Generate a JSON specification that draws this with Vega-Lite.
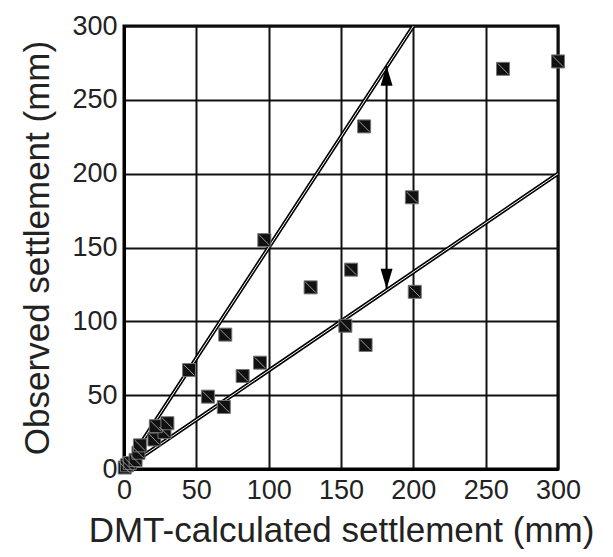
{
  "$schema": "https://vega.github.io/schema/vega-lite/v6.json",
  "width": 434,
  "height": 443,
  "autosize": {"type": "none"},
  "padding": {"left": 124, "top": 26, "right": 55, "bottom": 88},
  "background": "white",
  "config": {
    "font": "Liberation Sans",
    "view": {"stroke": "black", "strokeWidth": 3},
    "axis": {
      "labelFont": "Liberation Sans",
      "titleFont": "Liberation Sans",
      "labelFontSize": 27,
      "titleFontSize": 35,
      "titleFontWeight": "normal",
      "labelColor": "#222",
      "titleColor": "#222",
      "domainColor": "black",
      "domainWidth": 3,
      "gridColor": "#111",
      "gridWidth": 2,
      "gridOpacity": 1,
      "ticks": false,
      "labelFlush": false,
      "labelOverlap": false,
      "titleLimit": 1000,
      "labelLimit": 1000
    }
  },
  "datasets": {
    "points": [
      {"x": 0.5, "y": 1}, {"x": 2, "y": 2.5}, {"x": 4, "y": 4}, {"x": 8, "y": 6},
      {"x": 10, "y": 11}, {"x": 11, "y": 16}, {"x": 21, "y": 20}, {"x": 28, "y": 25},
      {"x": 22, "y": 29}, {"x": 30, "y": 31}, {"x": 45, "y": 67}, {"x": 58, "y": 49},
      {"x": 69, "y": 42}, {"x": 70, "y": 91}, {"x": 82, "y": 63}, {"x": 94, "y": 72},
      {"x": 97, "y": 155}, {"x": 129, "y": 123}, {"x": 153, "y": 97}, {"x": 157, "y": 135},
      {"x": 166, "y": 232}, {"x": 167, "y": 84}, {"x": 199, "y": 184}, {"x": 201, "y": 120},
      {"x": 262, "y": 271}, {"x": 300, "y": 276}
    ],
    "lines": [
      {"line": "upper", "x": 0, "y": 0}, {"line": "upper", "x": 200, "y": 300},
      {"line": "lower", "x": 0, "y": 0}, {"line": "lower", "x": 300, "y": 200}
    ],
    "arrow": [{"x": 181.5, "y": 122, "y2": 273}],
    "heads": [
      {"x": 181.5, "y": 273, "dir": "up"},
      {"x": 181.5, "y": 122, "dir": "down"}
    ]
  },
  "encoding": {
    "x": {
      "field": "x", "type": "quantitative",
      "scale": {"domain": [0, 300], "nice": false, "zero": true},
      "axis": {"values": [0, 50, 100, 150, 200, 250, 300], "title": "DMT-calculated settlement (mm)", "labelPadding": 8, "titlePadding": 10, "grid": true}
    },
    "y": {
      "field": "y", "type": "quantitative",
      "scale": {"domain": [0, 300], "nice": false, "zero": true},
      "axis": {"values": [0, 50, 100, 150, 200, 250, 300], "title": "Observed settlement (mm)", "labelPadding": 7, "titlePadding": 16, "grid": true}
    }
  },
  "layer": [
    {
      "data": {"name": "lines"},
      "mark": {"type": "line", "color": "black", "strokeWidth": 4, "clip": true},
      "encoding": {"detail": {"field": "line"}}
    },
    {
      "data": {"name": "lines"},
      "mark": {"type": "line", "color": "white", "strokeWidth": 1, "clip": true},
      "encoding": {"detail": {"field": "line"}}
    },
    {
      "data": {"name": "arrow"},
      "mark": {"type": "rule", "color": "black", "strokeWidth": 2},
      "encoding": {"y2": {"field": "y2"}}
    },
    {
      "data": {"name": "heads"},
      "mark": {"type": "point", "filled": true, "color": "black", "opacity": 1, "size": 400},
      "encoding": {
        "shape": {
          "field": "dir", "type": "nominal",
          "scale": {"domain": ["up", "down"], "range": ["M0,0L0.6,2L-0.6,2Z", "M0,0L0.6,-2L-0.6,-2Z"]},
          "legend": null
        }
      }
    },
    {
      "data": {"name": "points"},
      "mark": {"type": "point", "shape": "square", "filled": true, "color": "#111", "stroke": "#777", "strokeWidth": 1, "opacity": 1, "size": 169}
    },
    {
      "data": {"name": "points"},
      "mark": {"type": "point", "shape": "M-0.8,-0.8L0.8,0.8", "filled": false, "color": "#999", "strokeWidth": 1, "opacity": 1, "size": 169}
    }
  ]
}
